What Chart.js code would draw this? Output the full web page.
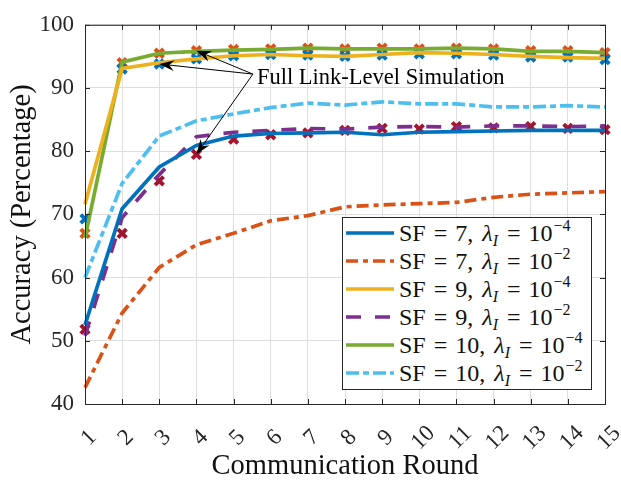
<!DOCTYPE html>
<html>
<head>
<meta charset="utf-8">
<script src="https://cdn.jsdelivr.net/npm/chart.js@4"></script>
<style>
  html, body { margin: 0; padding: 0; background: #fff; }
  #wrap { position: relative; width: 621px; height: 480px; }
  #legend {
    position: absolute; left: 342px; top: 217px; width: 250px; height: 173px;
    border: 1px solid #262626; background: #fff; box-sizing: border-box;
    font-family: 'Liberation Serif', serif; font-size: 24px; color: #111;
    padding-top: 1px;
  }
  .row { height: 28px; display: flex; align-items: center; white-space: nowrap; }
  .row svg { margin-left: 3px; margin-right: 5px; flex: none; }
  .eq { margin: 0 8px; }
  .lam { font-style: italic; margin-left: 3px; }
  sub { font-style: italic; font-size: 16px; vertical-align: -5px; margin-right: 1px; }
  sup { font-size: 16px; vertical-align: 10px; margin-left: 1px; }
</style>
</head>
<body>
<div id="wrap">
  <canvas id="chart" width="621" height="480"></canvas>
  <div id="legend"></div>
</div>
<script>
// ── data ──────────────────────────────────────────────────────────
const rounds = [1, 2, 3, 4, 5, 6, 7, 8, 9, 10, 11, 12, 13, 14, 15];

const sf7Low   = [52.5, 70.9, 77.5, 80.9, 82.4, 82.8, 82.9, 83.0, 82.6, 83.0, 83.1, 83.2, 83.3, 83.3, 83.3];
const sf7High  = [42.6, 54.4, 61.6, 65.2, 67.0, 69.0, 69.8, 71.2, 71.5, 71.7, 71.9, 72.7, 73.2, 73.4, 73.6];
const sf9Low   = [71.6, 93.1, 94.0, 94.6, 95.1, 95.3, 95.1, 95.0, 95.3, 95.6, 95.5, 95.3, 95.0, 94.8, 94.7];
const sf9High  = [50.8, 69.5, 76.3, 82.3, 83.0, 83.3, 83.6, 83.5, 83.8, 83.9, 83.8, 84.0, 84.0, 83.9, 84.0];
const sf10Low  = [66.3, 94.1, 95.5, 95.8, 96.0, 96.1, 96.3, 96.2, 96.2, 96.2, 96.3, 96.2, 95.8, 95.8, 95.6];
const sf10High = [60.0, 74.9, 82.4, 84.8, 85.9, 86.9, 87.6, 87.3, 87.8, 87.5, 87.5, 87.0, 87.0, 87.2, 87.0];

// full link-level simulation markers
const linkSf10 = [67.0, 94.0, 95.5, 95.9, 96.1, 96.2, 96.3, 96.2, 96.3, 96.2, 96.3, 96.2, 95.9, 95.9, 95.6];
const linkSf9  = [69.3, 93.0, 93.8, 94.6, 95.1, 95.3, 95.2, 95.0, 95.2, 95.4, 95.4, 95.2, 94.9, 94.9, 94.5];
const linkSf7  = [51.8, 67.0, 75.3, 79.5, 81.9, 82.6, 82.9, 83.3, 83.6, 83.5, 83.9, 83.7, 83.9, 83.6, 83.4];

const legendSF  = [7, 7, 9, 9, 10, 10];
const legendExp = [-4, -2, -4, -2, -4, -2];

const yTicks = [40, 50, 60, 70, 80, 90, 100];

const annotText = 'Full Link-Level Simulation';
const annotAt   = { x: 5.63, y: 91.6 };   // left / middle of the text
const arrowTail = { x: 5.52, y: 92.2 };
const arrowHeads = [
  { x: 4, y: 95.9 },
  { x: 3, y: 93.8 },
  { x: 4, y: 79.5 },
];

// ── styles ─────────────────────────────────────────────────────────
const SERIF = "'Liberation Serif', 'Times New Roman', serif";
const INK = '#262626';
const lineStyles = [
  { color: '#0072BD', dash: [] },
  { color: '#D95319', dash: [12, 5, 5, 5] },
  { color: '#EDB120', dash: [] },
  { color: '#7E2F8E', dash: [15, 14] },
  { color: '#77AC30', dash: [] },
  { color: '#4DBEEE', dash: [13, 4, 6, 4] },
];

const toPts = arr => arr.map((v, i) => ({ x: rounds[i], y: v }));

const lineSeries = [sf7Low, sf7High, sf9Low, sf9High, sf10Low, sf10High];
const datasets = lineSeries.map((s, i) => ({
  label: `SF = ${legendSF[i]}, λI = 10^${legendExp[i]}`,
  data: toPts(s),
  borderColor: lineStyles[i].color,
  backgroundColor: lineStyles[i].color,
  borderDash: lineStyles[i].dash,
  borderWidth: 3.7,
  pointRadius: 0,
  tension: 0,
  fill: false,
  clip: false,
}));

const markerSets = [
  { data: linkSf9, color: '#0072BD' },
  { data: linkSf10, color: '#D95319' },
  { data: linkSf7, color: '#A2142F' },
];
markerSets.forEach(m => datasets.push({
  label: 'link',
  data: toPts(m.data),
  showLine: false,
  pointStyle: 'crossRot',
  pointRadius: 6,
  pointBorderWidth: 4,
  borderColor: m.color,
  backgroundColor: m.color,
  clip: false,
}));

// ── frame, ticks, rotated x labels, annotation ─────────────────────
const framePlugin = {
  id: 'frame',
  afterDatasetsDraw(chart) {
    const { ctx, chartArea: a, scales: { x, y } } = chart;
    ctx.save();
    ctx.strokeStyle = INK;
    ctx.lineWidth = 1;
    ctx.strokeRect(a.left + 0.5, a.top + 0.5, a.right - a.left, a.bottom - a.top);
    ctx.beginPath();
    x.ticks.forEach(t => {
      const px = Math.round(x.getPixelForValue(t.value)) + 0.5;
      ctx.moveTo(px, a.bottom); ctx.lineTo(px, a.bottom - 5);
      ctx.moveTo(px, a.top); ctx.lineTo(px, a.top + 5);
    });
    y.ticks.forEach(t => {
      const py = Math.round(y.getPixelForValue(t.value)) + 0.5;
      ctx.moveTo(a.left, py); ctx.lineTo(a.left + 5, py);
      ctx.moveTo(a.right, py); ctx.lineTo(a.right - 5, py);
    });
    ctx.stroke();

    // rotated x tick labels
    ctx.fillStyle = INK;
    ctx.font = `normal 23px ${SERIF}`;
    ctx.textAlign = 'center';
    ctx.textBaseline = 'middle';
    x.ticks.forEach(t => {
      const px = x.getPixelForValue(t.value);
      ctx.save();
      ctx.translate(px + 4, a.bottom + 34);
      ctx.rotate(-Math.PI / 4);
      ctx.fillText(String(t.value), 0, 0);
      ctx.restore();
    });

    // annotation
    const tx = x.getPixelForValue(arrowTail.x), ty = y.getPixelForValue(arrowTail.y);
    ctx.strokeStyle = '#000';
    ctx.fillStyle = '#000';
    arrowHeads.forEach(h => {
      const hx = x.getPixelForValue(h.x), hy = y.getPixelForValue(h.y);
      const ang = Math.atan2(hy - ty, hx - tx);
      const L = 15, W = 5.5, N = 10;
      ctx.beginPath();
      ctx.moveTo(tx, ty);
      ctx.lineTo(hx - N * Math.cos(ang), hy - N * Math.sin(ang));
      ctx.stroke();
      const cos = Math.cos(ang), sin = Math.sin(ang);
      ctx.beginPath();
      ctx.moveTo(hx, hy);
      ctx.lineTo(hx - L * cos - W * sin, hy - L * sin + W * cos);
      ctx.lineTo(hx - N * cos, hy - N * sin);
      ctx.lineTo(hx - L * cos + W * sin, hy - L * sin - W * cos);
      ctx.closePath();
      ctx.fill();
    });
    ctx.font = `normal 22.5px ${SERIF}`;
    ctx.fillStyle = '#000';
    ctx.textAlign = 'left';
    ctx.textBaseline = 'middle';
    ctx.fillText(annotText, x.getPixelForValue(annotAt.x), y.getPixelForValue(annotAt.y));
    ctx.restore();
  },
};

new Chart(document.getElementById('chart'), {
  type: 'line',
  data: { datasets },
  options: {
    responsive: false,
    animation: false,
    layout: { padding: { left: 0, right: 16, top: 17, bottom: 0 } },
    plugins: { legend: { display: false }, tooltip: { enabled: false } },
    scales: {
      x: {
        type: 'linear', min: 1, max: 15,
        afterBuildTicks: s => { s.ticks = rounds.map(v => ({ value: v })); },
        ticks: { display: false },
        grid: { color: '#dedede', drawTicks: false },
        border: { display: false },
        title: { display: true, text: 'Communication Round', color: '#111', font: { family: SERIF, size: 28.5 }, padding: { top: 0, bottom: -4 } },
        afterFit: s => { s.height = 76; },
      },
      y: {
        min: 40, max: 100,
        afterBuildTicks: s => { s.ticks = yTicks.map(v => ({ value: v })); },
        ticks: { color: INK, font: { family: SERIF, size: 23 }, padding: 11 },
        grid: { color: '#dedede', drawTicks: false },
        border: { display: false },
        title: { display: true, text: 'Accuracy (Percentage)', color: '#111', font: { family: SERIF, size: 28.5 }, padding: { top: 5, bottom: 0 } },
        afterFit: s => { s.width = 85; },
      },
    },
  },
  plugins: [framePlugin],
});

// ── legend (html, for sub/superscripts) ────────────────────────────
const legendEl = document.getElementById('legend');
lineStyles.forEach((st, i) => {
  const row = document.createElement('div');
  row.className = 'row';
  row.innerHTML =
    `<svg width="48" height="10"><line x1="0" y1="5" x2="48" y2="5" stroke="${st.color}" stroke-width="3.7" stroke-dasharray="${st.dash.join(' ')}"/></svg>` +
    `<span>SF<span class="eq">=</span>${legendSF[i]}, <span class="lam">λ</span><sub>I</sub><span class="eq">=</span>10<sup>−${Math.abs(legendExp[i])}</sup></span>`;
  legendEl.appendChild(row);
});
</script>
</body>
</html>
